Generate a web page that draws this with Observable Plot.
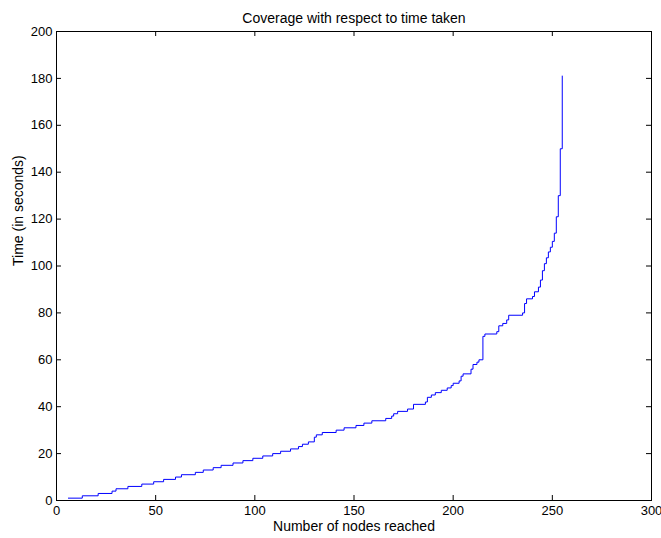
<!DOCTYPE html>
<html>
<head>
<meta charset="utf-8">
<script src="https://cdn.jsdelivr.net/npm/d3@7"></script>
<script src="https://cdn.jsdelivr.net/npm/@observablehq/plot@0.6"></script>
<style>
  html, body { margin: 0; padding: 0; background: #fff; }
  #chart { width: 661px; height: 538px; }
</style>
</head>
<body>
<div id="chart"></div>
<script>
const title = "Coverage with respect to time taken";
const xLabel = "Number of nodes reached";
const yLabel = "Time (in seconds)";

// Stair breakpoints: node count where a new time level starts, and that time
const nodes = [6, 13, 21, 28, 30, 36, 43, 49, 54, 60, 63, 70, 74, 79, 83, 89, 94, 99, 104, 109,
  113, 118, 122, 124, 127, 130, 131, 134, 141, 145, 151, 155, 159, 166, 169, 170, 172, 177, 180,
  186, 187, 189, 191, 194, 197, 199, 200, 203, 204, 205, 209, 210, 212, 213, 215, 216, 222, 223,
  225, 227, 228, 235, 236, 237, 240, 241, 243, 244, 245, 246, 247, 248, 249, 250, 251, 252, 253,
  254, 255];
const times = [1, 2, 3, 4, 5, 6, 7, 8, 9, 10, 11, 12, 13, 14, 15, 16, 17, 18, 19, 20,
  21, 22, 23, 24, 25, 27, 28, 29, 30, 31, 32, 33, 34, 35, 36, 37, 38, 39, 41,
  42, 44, 45, 46, 47, 48, 49, 50, 51, 53, 54, 56, 58, 59, 60, 70, 71, 72, 74.5,
  75.5, 77, 79, 80, 84, 86, 87, 89, 91, 94, 98, 101, 103.5, 106, 108, 110.5, 114, 121, 130,
  150, 181];

const xTicks = [0, 50, 100, 150, 200, 250, 300];
const yTicks = [0, 20, 40, 60, 80, 100, 120, 140, 160, 180, 200];

const data = nodes.map((n, i) => ({n, t: times[i]}));

const W = 661, H = 538, ML = 56, MR = 10, MT = 31, MB = 38, TL = 5;
const font = "'Liberation Sans', Arial, Helvetica, sans-serif";

const chart = Plot.plot({
  width: W,
  height: H,
  marginLeft: ML,
  marginRight: MR,
  marginTop: MT,
  marginBottom: MB,
  style: {fontFamily: font, fontSize: "13px", color: "#000", background: "#fff"},
  x: {domain: [0, 300], label: null},
  y: {domain: [0, 200], label: null},
  marks: [
    Plot.frame({stroke: "#000", strokeWidth: 1}),
    Plot.axisX(xTicks, {anchor: "bottom", tickSize: 0, tickPadding: 5, label: null, fontSize: 13}),
    Plot.axisY(yTicks, {anchor: "left", tickSize: 0, tickPadding: 4, label: null, fontSize: 13}),
    // inward tick marks on all four sides
    Plot.tickX(xTicks, {x: d => d, insetTop: H - MT - MB - TL, stroke: "#000", strokeWidth: 1}),
    Plot.tickX(xTicks, {x: d => d, insetBottom: H - MT - MB - TL, stroke: "#000", strokeWidth: 1}),
    Plot.tickY(yTicks, {y: d => d, insetRight: W - ML - MR - TL, stroke: "#000", strokeWidth: 1}),
    Plot.tickY(yTicks, {y: d => d, insetLeft: W - ML - MR - TL, stroke: "#000", strokeWidth: 1}),
    Plot.line(data, {x: "n", y: "t", curve: "step-after", stroke: "#0000ff", strokeWidth: 1}),
    Plot.text([title], {frameAnchor: "top", dy: -18, text: d => d, fontSize: 14}),
    Plot.text([xLabel], {frameAnchor: "bottom", dy: 30, text: d => d, fontSize: 14}),
    Plot.text([yLabel], {frameAnchor: "left", dx: -38, rotate: -90, text: d => d, fontSize: 14})
  ]
});
document.getElementById("chart").appendChild(chart);
</script>
</body>
</html>
